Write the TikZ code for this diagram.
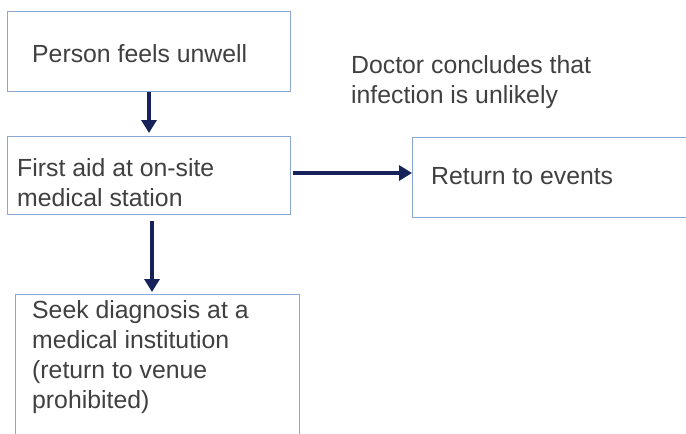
\documentclass[tikz,border=0pt]{standalone}
\usepackage{fontspec}
\setmainfont{Liberation Sans}
\usetikzlibrary{arrows.meta}
\definecolor{boxblue}{HTML}{8AA5D8}
\definecolor{navy}{HTML}{17215A}
\definecolor{txt}{HTML}{404040}
\begin{document}
\begin{tikzpicture}[x=1pt,y=-1pt,
  box/.style={draw=boxblue,line width=1.1pt,anchor=north west,inner sep=0pt,fill=white},
  lbl/.style={text=txt,anchor=base west,inner sep=0pt,align=left,
    font=\fontsize{24.8}{30}\selectfont},
  flow/.style={draw=navy,line width=4.2pt,-{Triangle[length=13pt,width=15pt]}}]
\useasboundingbox (0,0) rectangle (686,434);
\clip (0,0) rectangle (686,434);
\node[box,minimum width=283pt,minimum height=80pt] (b1) at (7,11) {};
\node[box,minimum width=283pt,minimum height=78pt] (b2) at (7,136) {};
\node[box,minimum width=290pt,minimum height=80pt] (b3) at (412,137) {};
\node[box,minimum width=284pt,minimum height=160pt] (b4) at (15,294) {};
\node[lbl] (t1) at (32,62) {Person feels unwell};
\node[lbl] (t2) at (17,206) {First aid at on-site\\medical station};
\node[lbl] (t3) at (431,184) {Return to events};
\node[lbl] (t4) at (32,408) {Seek diagnosis at a\\medical institution\\(return to venue\\prohibited)};
\node[lbl] (t5) at (351,103) {Doctor concludes that\\infection is unlikely};
\coordinate (a1) at (149,0);
\coordinate (a3) at (152,0);
\draw[flow] (a1 |- b1.south) -- ([yshift=3pt]a1 |- b2.north);
\draw[flow] ([xshift=2pt]b2.east |- 0,173) -- (b3.west |- 0,173);
\draw[flow] ([yshift=-6pt]a3 |- b2.south) -- ([yshift=2pt]a3 |- b4.north);
\end{tikzpicture}
\end{document}
